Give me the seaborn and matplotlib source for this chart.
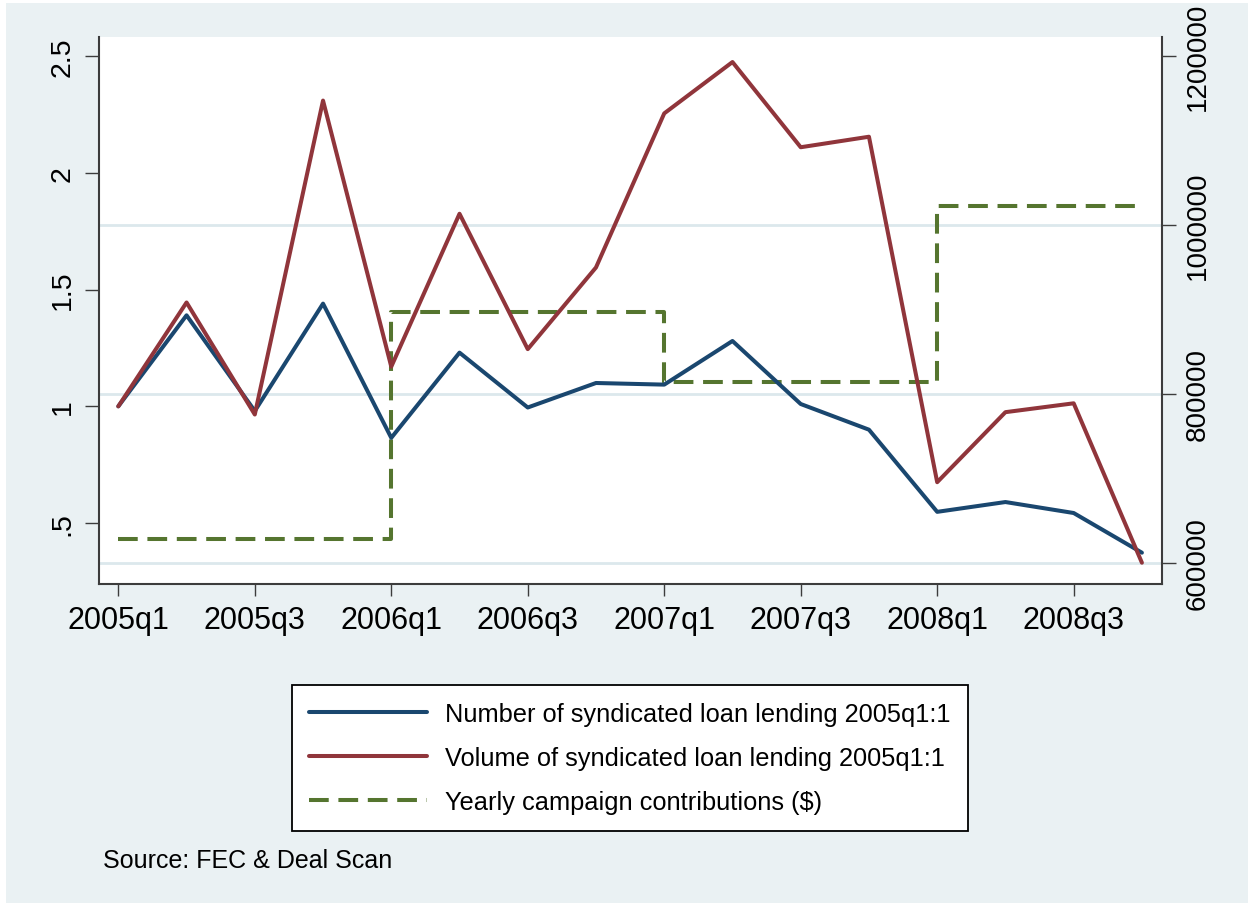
import matplotlib
matplotlib.use("Agg")
import matplotlib.pyplot as plt
import seaborn as sns
import pandas as pd
from matplotlib.patches import Rectangle
from matplotlib.lines import Line2D

# ---------------- data ----------------
quarters = ["2005q1", "2005q2", "2005q3", "2005q4",
            "2006q1", "2006q2", "2006q3", "2006q4",
            "2007q1", "2007q2", "2007q3", "2007q4",
            "2008q1", "2008q2", "2008q3", "2008q4"]
number_loans = [1.00, 1.39, 0.98, 1.44,
                0.865, 1.23, 0.995, 1.10,
                1.093, 1.28, 1.01, 0.90,
                0.548, 0.59, 0.543, 0.373]
volume_loans = [1.00, 1.445, 0.965, 2.31,
                1.17, 1.825, 1.245, 1.595,
                2.255, 2.475, 2.11, 2.155,
                0.675, 0.975, 1.013, 0.33]
contributions = [628000, 628000, 628000, 628000,
                 896000, 896000, 896000, 896000,
                 814000, 814000, 814000, 814000,
                 1022000, 1022000, 1022000, 1022000]
left_ticks = [0.5, 1.0, 1.5, 2.0, 2.5]
left_ticklabels = [".5", "1", "1.5", "2", "2.5"]
right_ticks = [600000, 800000, 1000000, 1200000]
right_ticklabels = ["600000", "800000", "1000000", "1200000"]
legend_labels = ["Number of syndicated loan lending 2005q1:1",
                 "Volume of syndicated loan lending 2005q1:1",
                 "Yearly campaign contributions ($)"]
source_text = "Source: FEC & Deal Scan"

df = pd.DataFrame({"q": range(len(quarters)), "number": number_loans,
                   "volume": volume_loans, "contrib": contributions})

# ---------------- style ----------------
sns.set_style("white")
plt.rcParams["font.family"] = ["Liberation Sans", "DejaVu Sans"]
plt.rcParams["text.color"] = "black"
plt.rcParams["xtick.labelcolor"] = "black"
plt.rcParams["ytick.labelcolor"] = "black"

navy = "#1A476F"
maroon = "#90353B"
green = "#55752F"
bg = "#EAF1F3"
grid_c = "#DCE8EC"
spine_c = "#3C3C3C"
LW = 2.9
DASH = (0, (4.9, 2.4))

W, H = 1255, 904
fig = plt.figure(figsize=(W / 100, H / 100), dpi=100, facecolor="white")
fig.patches.append(Rectangle((6 / W, 0), (1248 - 6) / W, (H - 4) / H,
                             transform=fig.transFigure, facecolor=bg,
                             edgecolor="none", zorder=-10))

left, right, top, bottom = 99, 1161.7, 37.6, 585.2
ax2 = fig.add_axes([left / W, 1 - bottom / H, (right - left) / W, (bottom - top) / H])
ax = ax2.twinx()
ax2.set_zorder(1)
ax.set_zorder(2)
ax.yaxis.tick_left()
ax.yaxis.set_label_position("left")
ax2.yaxis.tick_right()
ax2.yaxis.set_label_position("right")
ax2.set_facecolor("white")
ax.patch.set_visible(False)

# right axis: gridlines + contributions step line
for rt in right_ticks[:-1]:
    ax2.axhline(rt, color=grid_c, lw=2.0, zorder=0.5)
sns.lineplot(data=df, x="q", y="contrib", ax=ax2, color=green, lw=LW,
             drawstyle="steps-post", linestyle=DASH,
             legend=False, zorder=2)

# left axis: two series
sns.lineplot(data=df, x="q", y="number", ax=ax, color=navy, lw=LW,
             legend=False, zorder=3)
sns.lineplot(data=df, x="q", y="volume", ax=ax, color=maroon, lw=LW,
             legend=False, zorder=3)

xlo, xhi = -0.283, 15.29
ax.set_xlim(xlo, xhi)
ax2.set_xlim(xlo, xhi)
ax.set_ylim(0.238, 2.584)
ax2.set_ylim(574320, 1222367)

ax2.set_xticks(range(0, len(quarters), 2))
ax2.set_xticklabels(quarters[::2])
ax.tick_params(axis="x", which="both", bottom=False, labelbottom=False)

ax.set_yticks(left_ticks)
ax.set_yticklabels(left_ticklabels)
ax2.set_yticks(right_ticks)
ax2.set_yticklabels(right_ticklabels)

for a in (ax, ax2):
    a.set_xlabel("")
    a.set_ylabel("")
    a.grid(False)
    for s in a.spines.values():
        s.set_visible(False)

ax.spines["left"].set_visible(True)
ax.spines["left"].set_color(spine_c)
ax.spines["left"].set_linewidth(1.5)
ax2.spines["bottom"].set_visible(True)
ax2.spines["bottom"].set_color(spine_c)
ax2.spines["bottom"].set_linewidth(1.5)
ax2.spines["right"].set_visible(True)
ax2.spines["right"].set_color(spine_c)
ax2.spines["right"].set_linewidth(1.5)

ax.tick_params(axis="y", left=True, right=False, direction="out", length=10,
               width=1.0, color=spine_c, labelsize=20.5, pad=7)
ax2.tick_params(axis="y", right=True, left=False, direction="out", length=10,
                width=1.0, color=spine_c, labelsize=20, pad=6.5,
                labelleft=False, labelright=True)
ax2.tick_params(axis="x", bottom=True, direction="out", length=8.6, width=1.0,
                color=spine_c, labelsize=22, pad=6.5)
for lab in ax.get_yticklabels() + ax2.get_yticklabels():
    lab.set_rotation(90)
    lab.set_va("center")

# legend
handles = [Line2D([], [], color=navy, lw=LW),
           Line2D([], [], color=maroon, lw=LW),
           Line2D([], [], color=green, lw=LW, linestyle=DASH)]
leg = fig.legend(handles, legend_labels, loc="center",
                 bbox_to_anchor=(630 / W, 1 - 759 / H),
                 fontsize=18.3, frameon=True, fancybox=False, shadow=False,
                 framealpha=1, edgecolor="black", facecolor="white",
                 handlelength=4.65, handletextpad=0.72, labelspacing=0.8,
                 borderpad=0.65)
leg.get_frame().set_linewidth(1.3)

fig.text(103 / W, 1 - 868 / H, source_text, fontsize=18, ha="left",
         va="baseline", color="black")

fig.savefig("out.png", dpi=100, facecolor=fig.get_facecolor())
